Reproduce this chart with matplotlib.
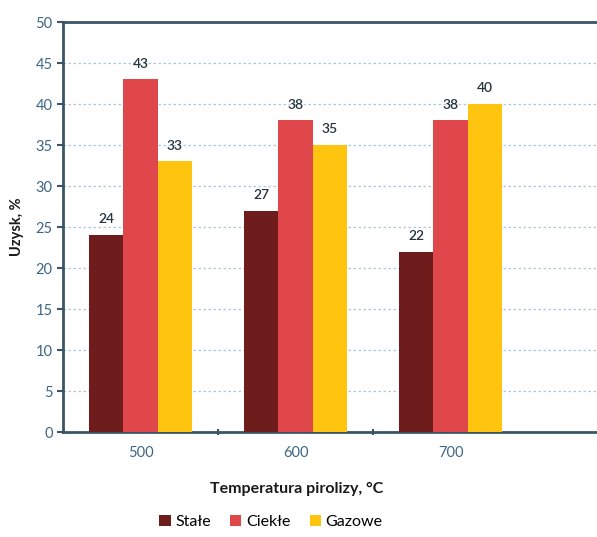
import numpy as np
import matplotlib
matplotlib.use("Agg")
import matplotlib.pyplot as plt

plt.rcParams['font.family'] = ['Lato', 'DejaVu Sans']

# Dane: uzysk produktów pirolizy
temperatury = ["500", "600", "700"]
stale = [24, 27, 22]
ciekle = [43, 38, 38]
gazowe = [33, 35, 40]

serie = ["Stałe", "Ciekłe", "Gazowe"]
kolory = ["#6e1c1c", "#e0474b", "#fec40f"]

os_kolor = "#3b5566"
etykieta_kolor = "#3d6685"

fig = plt.figure(figsize=(5.97, 5.37), dpi=100)
ax = fig.add_axes([0.1055, 0.1955, 0.8945, 0.7635])

x = np.arange(len(temperatury))
szer = 0.22
for i, (nazwa, wartosci, kol) in enumerate(zip(serie, [stale, ciekle, gazowe], kolory)):
    pos = x + (i - 1) * szer
    bars = ax.bar(pos, wartosci, width=szer, color=kol, label=nazwa, zorder=3)
    for b, v in zip(bars, wartosci):
        ax.text(b.get_x() + b.get_width() / 2, v + 1.2, str(v), ha='center', va='bottom',
                fontsize=10, fontweight='semibold', color="#26343d", zorder=4)

ax.set_xlim(-0.5, 2.945)
ax.set_ylim(0, 50)
ax.set_yticks(np.arange(0, 51, 5))
ax.set_xticks(x)
ax.set_xticklabels(temperatury)
ax.set_xticks([0.5, 1.5], minor=True)

ax.yaxis.grid(True, linestyle=(0, (2, 2)), color="#a9c8df", linewidth=0.9, zorder=0)
ax.set_axisbelow(True)

for s in ['left', 'bottom', 'top']:
    ax.spines[s].set_color(os_kolor)
    ax.spines[s].set_linewidth(2)
ax.spines['right'].set_visible(False)

ax.tick_params(axis='y', colors=os_kolor, labelcolor=etykieta_kolor, labelsize=10.5,
               length=4, width=1.5, direction='out')
ax.tick_params(axis='x', which='major', length=0, labelcolor=etykieta_kolor,
               labelsize=10.5, pad=10)
ax.tick_params(axis='x', which='minor', length=5, width=1.5, colors=os_kolor,
               direction='inout')

ax.set_ylabel("Uzysk, %", fontsize=10.5, fontweight='bold', color="#1a1a1a", labelpad=8)
ax.set_xlabel("Temperatura pirolizy, °C", fontsize=11.5, fontweight='bold', color="#1a1a1a")
ax.xaxis.set_label_coords((297 - 63) / 534, -0.122)

fig.legend(loc='center', bbox_to_anchor=(271 / 597, 1 - 522 / 537), ncol=3, frameon=False,
           fontsize=11.5, handlelength=0.7, handleheight=0.7, handletextpad=0.3,
           columnspacing=1.2)

fig.savefig("out.png", dpi=100)
